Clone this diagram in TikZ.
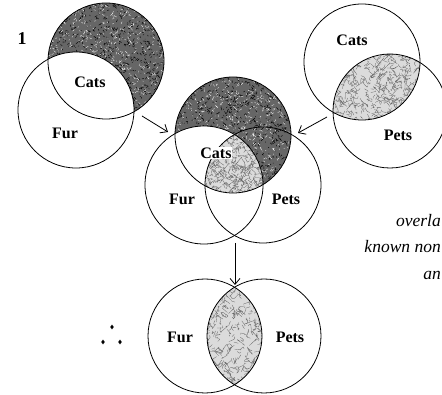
\documentclass[tikz,border=0pt]{standalone}
\usepackage{fontspec}
\newfontfamily\labfont{Liberation Serif}
\usetikzlibrary{arrows.meta}
\newcommand\darktex[3]{%
  \fill[black!60] (#1,#2) circle[radius=#3];
  \foreach \k in {1,...,900}{\draw[black,line width=0.45pt] ({#1+#3*rand},{#2+#3*rand}) -- ++({2.5*rand},{2.5*rand});}
  \foreach \k in {1,...,700}{\draw[white,line width=0.3pt] ({#1+#3*rand},{#2+#3*rand}) -- ++({2.5*rand},{2.5*rand});}
}
\newcommand\lighttex[3]{%
  \fill[black!14] (#1,#2) circle[radius=#3];
  \foreach \k in {1,...,700}{\draw[black!60,line width=0.3pt] ({#1+#3*rand},{#2+#3*rand}) .. controls ++({3*rand},{3*rand}) .. ++({6*rand},{6*rand});}
}
\begin{document}
\begin{tikzpicture}[x=1pt,y=-1pt,
  ring/.style={draw=black,line width=0.8pt},
  lab/.style={font=\fontsize{16}{16}\selectfont\labfont\bfseries,inner sep=0pt},
  num/.style={font=\fontsize{18}{18}\selectfont\labfont\bfseries,inner sep=0pt},
  note/.style={font=\fontsize{17.5}{17.5}\selectfont\labfont\itshape,inner sep=0pt,anchor=base east},
  conn/.style={line width=0.8pt,-{Straight Barb[length=6pt,width=10pt]}}]
\pgfmathsetseed{7}
\useasboundingbox (0,0) rectangle (442,395);
\fill[white] (0,0) rectangle (442,395);

% ---------- diagram 1 (top left) ----------
\begin{scope}
  \clip (106,61) circle[radius=58];
  \darktex{106}{61}{58}
  \fill[white] (76,110) circle[radius=58];
\end{scope}
\draw[ring] (106,61) circle[radius=58];
\draw[ring] (76,110) circle[radius=58];
\node[num] (n1) at (22,39) {1};
\node[lab] (c1) at (90,82) {Cats};
\node[lab] (f1) at (65,133) {Fur};

% ---------- diagram 2 (top right) ----------
\begin{scope}
  \clip (362,62) circle[radius=58];
  \clip (390,111) circle[radius=57];
  \lighttex{376}{86}{50}
\end{scope}
\draw[ring] (362,62) circle[radius=58];
\draw[ring] (390,111) circle[radius=57];
\node[lab] (c2) at (352,40) {Cats};
\node[lab] (p2) at (398,135) {Pets};

% ---------- diagram 3 (middle) ----------
\begin{scope}
  \clip (233,135) circle[radius=58];
  \darktex{233}{135}{58}
  \fill[white] (204,185) circle[radius=59];
\end{scope}
\begin{scope}
  \clip (233,135) circle[radius=58];
  \clip (204,185) circle[radius=59];
  \clip (263,185) circle[radius=58];
  \lighttex{233}{165}{40}
\end{scope}
\draw[ring] (233,135) circle[radius=58];
\draw[ring] (204,185) circle[radius=59];
\draw[ring] (263,185) circle[radius=58];
\node[lab,fill=white,inner sep=0.8pt] (c3) at (216,153) {Cats};
\node[lab] (f3) at (182,199) {Fur};
\node[lab] (p3) at (286,199) {Pets};

% ---------- diagram 4 (bottom) ----------
\begin{scope}
  \clip (205,336) circle[radius=57];
  \clip (264,336) circle[radius=57];
  \lighttex{234}{336}{55}
\end{scope}
\draw[ring] (205,336) circle[radius=57];
\draw[ring] (264,336) circle[radius=57];
\node[lab] (f4) at (180,337) {Fur};
\node[lab] (p4) at (290,337) {Pets};

% therefore sign
\foreach \p in {(112,327),(103,342),(120,342)}{
  \fill \p +(0,-2.4) -- +(1.8,0) -- +(0,2.4) -- +(-1.8,0) -- cycle;
}

% ---------- arrows ----------
\coordinate (a1s) at (142,116); \coordinate (a1e) at (168,132);
\coordinate (a2s) at (327,117); \coordinate (a2e) at (298,133);
\coordinate (a3s) at (235,243); \coordinate (a3e) at (235,285);
\draw[conn] (a1s) -- (a1e);
\draw[conn] (a2s) -- (a2e);
\draw[conn] (a3s) -- (a3e);

% ---------- side text (as far as the picture shows it) ----------
\node[note] (t1) at (441,227) {overla};
\node[note] (t2) at (441,253) {known non};
\node[note] (t3) at (441,280) {an};
\end{tikzpicture}
\end{document}
